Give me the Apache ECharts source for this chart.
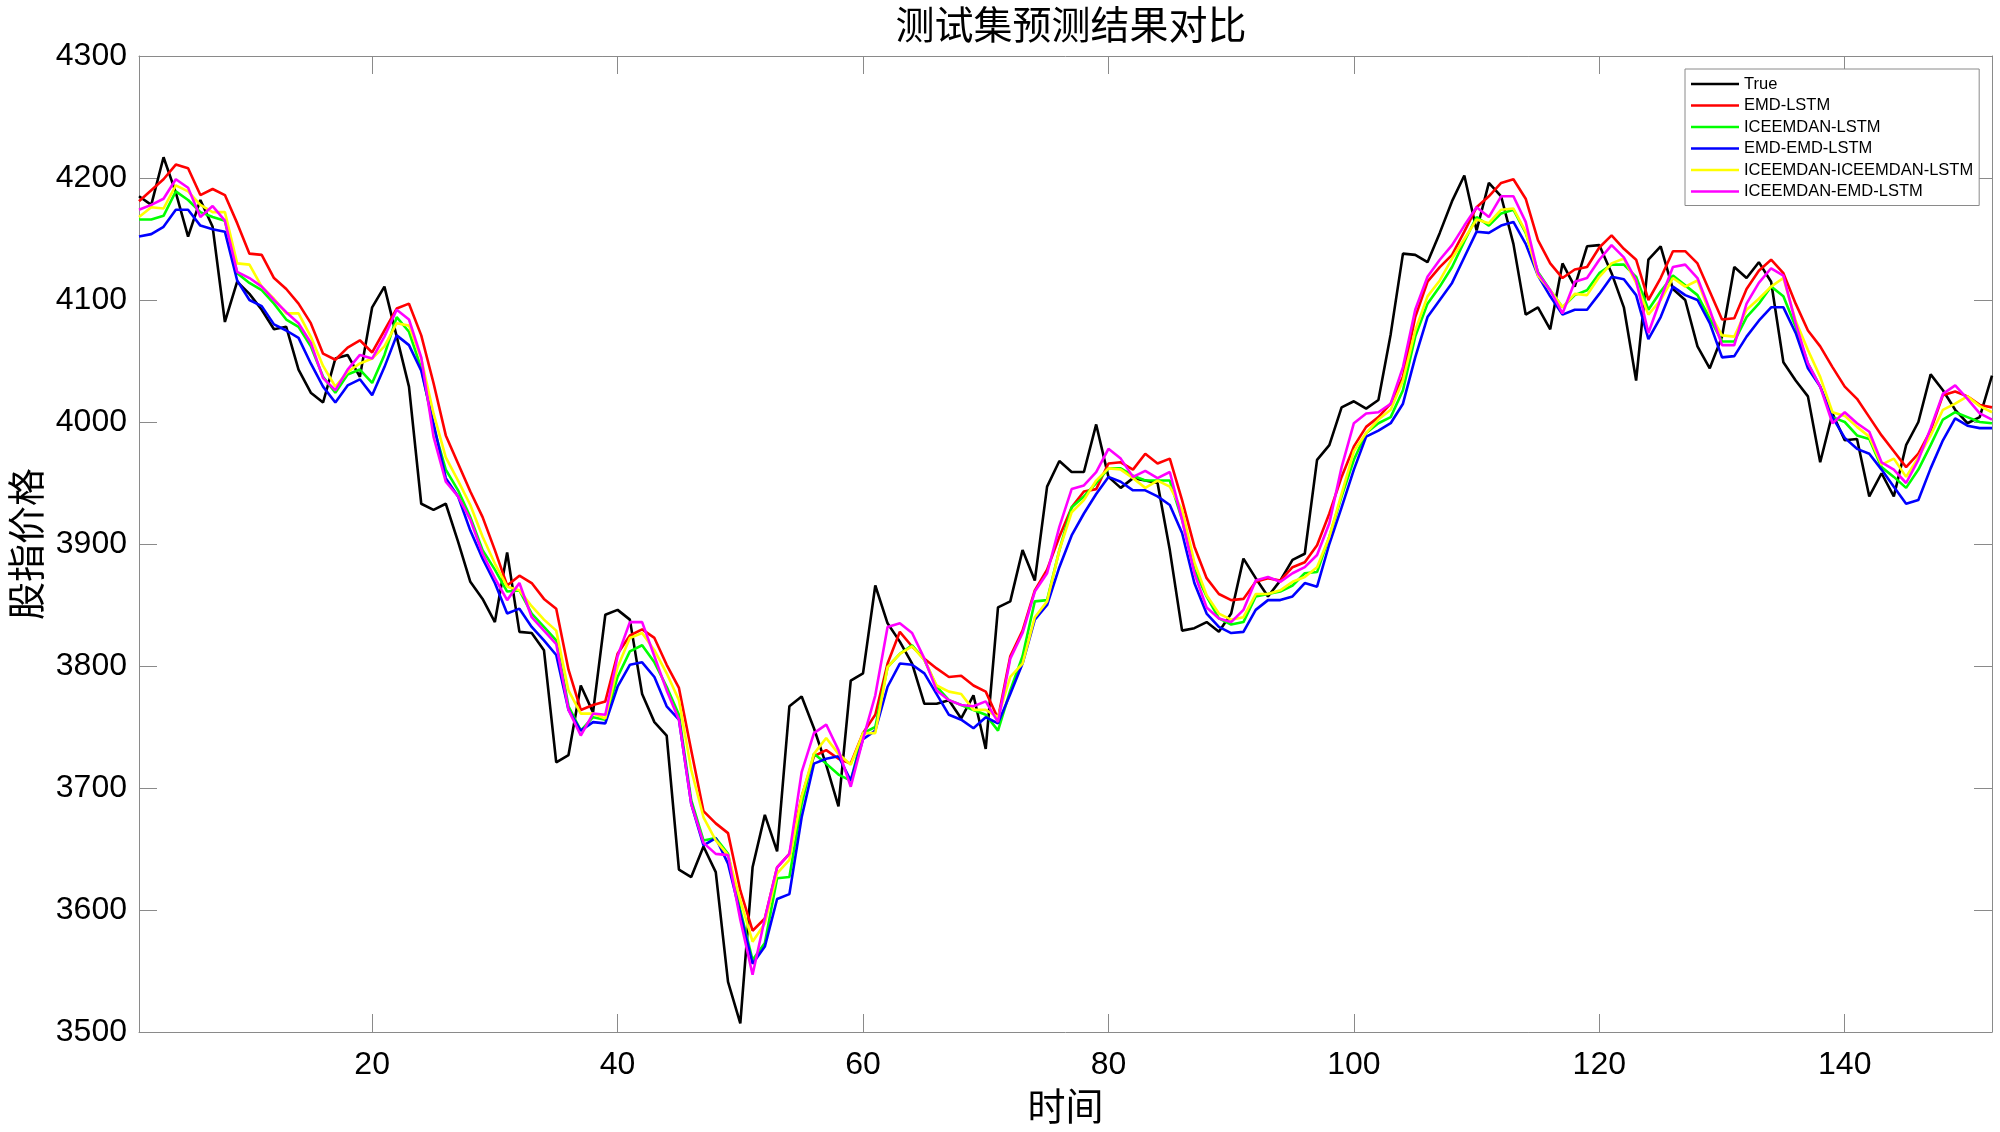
<!DOCTYPE html>
<html>
<head>
<meta charset="utf-8">
<script src="https://cdn.jsdelivr.net/npm/echarts@6/dist/echarts.min.js"></script>
<style>
  html, body { margin: 0; padding: 0; background: #fff; }
  #chart { width: 2000px; height: 1132px; }
</style>
</head>
<body>
<div id="chart"></div>
<script>
const xTicks = [20, 40, 60, 80, 100, 120, 140]
const yMin = 3500
const yMax = 4300

const trueVals = [
  4185, 4178, 4217, 4188, 4152, 4182, 4160, 4082, 4115, 4105,
  4092, 4076, 4078, 4043, 4024, 4016, 4052, 4055, 4037, 4094,
  4111, 4070, 4029, 3933, 3928, 3933, 3902, 3869, 3855, 3836,
  3893, 3828, 3827, 3813, 3721, 3727, 3784, 3762, 3842, 3846,
  3838, 3777, 3754, 3743, 3633, 3627, 3652, 3631, 3541, 3507,
  3635, 3678, 3648, 3767, 3775, 3749, 3719, 3685, 3788, 3794,
  3866, 3835, 3820, 3802, 3769, 3769, 3772, 3757, 3776, 3732,
  3848, 3853, 3895, 3870, 3947, 3968, 3959, 3959, 3998, 3955,
  3946, 3954, 3952, 3950, 3895, 3829, 3831, 3836, 3828, 3843,
  3888, 3872, 3857, 3870, 3887, 3892, 3969, 3981, 4012, 4017,
  4011, 4018, 4072, 4138, 4137, 4131, 4155, 4181, 4202, 4157,
  4196, 4185, 4146, 4088, 4094, 4076, 4130, 4111, 4144, 4145,
  4122, 4094, 4034, 4133, 4144, 4109, 4100, 4062, 4044, 4070,
  4127, 4118, 4131, 4115, 4049, 4034, 4021, 3967, 4007, 3985,
  3986, 3939, 3958, 3939, 3981, 4000, 4039, 4026, 4010, 3999,
  4004, 4038
]

const emdLstm = [
  4181, 4190, 4199, 4211, 4208, 4186, 4191, 4186, 4163, 4138,
  4137, 4118, 4109, 4097, 4081, 4056, 4051, 4061, 4067, 4057,
  4075, 4093, 4097, 4071, 4032, 3989, 3966, 3943, 3922, 3895,
  3866, 3874, 3868, 3855, 3847, 3797, 3764, 3768, 3771, 3810,
  3825, 3830, 3823, 3801, 3782, 3731, 3681, 3671, 3663, 3616,
  3583, 3593, 3635, 3646, 3693, 3726, 3731, 3724, 3720, 3745,
  3760, 3802, 3828, 3816, 3806, 3798, 3791, 3792, 3784, 3779,
  3757, 3808, 3829, 3862, 3879, 3906, 3930, 3943, 3945, 3966,
  3967, 3961, 3974, 3966, 3970, 3936, 3898, 3872, 3859, 3854,
  3855, 3869, 3872, 3870, 3881, 3885, 3899, 3925, 3955, 3980,
  3996, 4004, 4015, 4037, 4086, 4115, 4127, 4137, 4156, 4176,
  4185, 4196, 4199, 4183, 4149, 4130, 4118, 4125, 4127, 4143,
  4153, 4142, 4133, 4100, 4118, 4140, 4140, 4130, 4107, 4084,
  4085, 4109, 4124, 4133, 4122, 4097, 4075, 4062, 4045, 4029,
  4019, 4004, 3989, 3976, 3963, 3974, 3993, 4022, 4025, 4021,
  4014, 4012
]

const iceemdanLstm = [
  4166, 4166, 4169, 4189, 4182, 4172, 4168, 4165, 4122, 4114,
  4108, 4097, 4084, 4078, 4062, 4037, 4024, 4039, 4043, 4032,
  4055, 4086, 4074, 4044, 3996, 3961, 3944, 3922, 3895, 3879,
  3861, 3862, 3843, 3832, 3821, 3767, 3747, 3758, 3756, 3791,
  3812, 3817, 3803, 3783, 3760, 3690, 3657, 3659, 3646, 3600,
  3559, 3573, 3626, 3627, 3687, 3728, 3720, 3711, 3706, 3745,
  3750, 3799, 3810, 3817, 3805, 3783, 3772, 3768, 3764, 3760,
  3747, 3780, 3808, 3853, 3854, 3895, 3930, 3939, 3950, 3962,
  3962, 3956, 3952, 3952, 3952, 3920, 3879, 3857, 3839, 3834,
  3836, 3857, 3859, 3861, 3866, 3876, 3877, 3906, 3939, 3969,
  3991, 3999, 4004, 4026, 4070, 4097, 4111, 4127, 4148, 4168,
  4161, 4171, 4174, 4155, 4123, 4108, 4094, 4104, 4108, 4122,
  4129, 4129, 4119, 4092, 4107, 4120, 4112, 4104, 4085, 4066,
  4066, 4086, 4097, 4111, 4103, 4078, 4048, 4029, 4004, 4000,
  3989, 3986, 3963, 3955, 3946, 3961, 3981, 4002, 4008, 4004,
  4000, 3999
]

const emdEmdLstm = [
  4152, 4154, 4160, 4174, 4174, 4161, 4158, 4156, 4116, 4100,
  4095, 4080, 4075, 4069, 4048, 4029, 4016, 4030, 4035, 4022,
  4045, 4071, 4063, 4042, 3999, 3954, 3939, 3911, 3888, 3868,
  3843, 3847, 3832, 3821, 3809, 3764, 3747, 3754, 3753, 3783,
  3801, 3803, 3791, 3767, 3756, 3687, 3653, 3659, 3638, 3597,
  3556, 3570, 3609, 3613, 3676, 3720, 3724, 3726, 3706, 3740,
  3747, 3783, 3802, 3801, 3794, 3777, 3760, 3756, 3749, 3758,
  3753, 3777, 3802, 3838, 3850, 3881, 3907, 3925, 3941, 3955,
  3951, 3944, 3944, 3939, 3932, 3909, 3868, 3843, 3832, 3827,
  3828, 3846, 3854, 3854, 3857, 3868, 3865, 3900, 3930, 3961,
  3988, 3993, 3999, 4015, 4053, 4086, 4100, 4114, 4135, 4156,
  4155, 4161, 4164, 4146, 4120, 4103, 4088, 4092, 4092, 4105,
  4119, 4117, 4104, 4068, 4086, 4111, 4104, 4100, 4081, 4053,
  4054, 4070, 4083, 4094, 4094, 4073, 4044, 4029, 4004, 3987,
  3978, 3974, 3961, 3947, 3933, 3936, 3962, 3985, 4003, 3997,
  3995, 3995
]

const iceIceLstm = [
  4168, 4176, 4175, 4194, 4189, 4178, 4172, 4172, 4130, 4129,
  4111, 4101, 4089, 4089, 4070, 4046, 4029, 4041, 4048, 4052,
  4062, 4081, 4079, 4052, 4007, 3971, 3952, 3932, 3906, 3884,
  3865, 3862, 3849, 3838, 3829, 3780, 3761, 3761, 3757, 3799,
  3823, 3827, 3813, 3794, 3772, 3715, 3676, 3657, 3645, 3608,
  3574, 3589, 3630, 3641, 3693, 3728, 3741, 3728, 3719, 3745,
  3745, 3799, 3810, 3816, 3805, 3784, 3779, 3777, 3764, 3764,
  3758, 3791, 3802, 3840, 3853, 3895, 3926, 3936, 3952, 3962,
  3961, 3954, 3946, 3952, 3947, 3928, 3885, 3858, 3843, 3838,
  3840, 3859, 3859, 3862, 3869, 3873, 3881, 3906, 3941, 3976,
  3991, 4002, 4010, 4034, 4075, 4103, 4116, 4134, 4150, 4166,
  4163, 4174, 4175, 4156, 4120, 4108, 4094, 4105, 4104, 4119,
  4130, 4134, 4114, 4088, 4100, 4118, 4111, 4116, 4089, 4071,
  4070, 4092, 4101, 4111, 4118, 4083, 4059, 4037, 4008, 4005,
  3996, 3988, 3965, 3970, 3955, 3971, 3989, 4010, 4015, 4021,
  4013, 4008
]

const iceEmdLstm = [
  4174, 4178, 4183, 4199, 4192, 4168, 4177, 4165, 4123, 4118,
  4111, 4100, 4090, 4081, 4065, 4036, 4026, 4043, 4055, 4052,
  4070, 4092, 4084, 4053, 3988, 3951, 3939, 3920, 3892, 3872,
  3854, 3868, 3840, 3829, 3818, 3764, 3743, 3761, 3760, 3808,
  3836, 3836, 3808, 3780, 3756, 3687, 3655, 3646, 3645, 3592,
  3547, 3593, 3635, 3646, 3713, 3745, 3752, 3731, 3701, 3740,
  3776, 3832, 3835, 3827, 3806, 3780, 3772, 3768, 3767, 3771,
  3754, 3806, 3827, 3861, 3876, 3914, 3945, 3948, 3959, 3978,
  3970, 3955, 3960, 3954, 3959, 3920, 3876, 3848, 3839, 3836,
  3846, 3870, 3873, 3869, 3876, 3881, 3891, 3917, 3963, 3999,
  4007, 4008, 4015, 4045, 4092, 4119, 4133, 4145, 4161, 4176,
  4168, 4185, 4185, 4164, 4122, 4108, 4089, 4115, 4118, 4133,
  4145, 4135, 4116, 4073, 4101, 4127, 4129, 4118, 4092, 4063,
  4063, 4097, 4114, 4126, 4120, 4081, 4048, 4029, 3999, 4008,
  3999, 3992, 3967, 3961, 3950, 3969, 3995, 4023, 4030, 4019,
  4007, 4002
]

const seriesNames = ['True', 'EMD-LSTM', 'ICEEMDAN-LSTM', 'EMD-EMD-LSTM', 'ICEEMDAN-ICEEMDAN-LSTM', 'ICEEMDAN-EMD-LSTM']
const seriesColors = ['#000000', '#ff0000', '#00ff00', '#0000ff', '#ffff00', '#ff00ff']
const seriesValues = [trueVals, emdLstm, iceemdanLstm, emdEmdLstm, iceIceLstm, iceEmdLstm]

const xMax = trueVals.length
const axisColor = '#8a8a8a'
const latin = '"Liberation Sans", Arial, sans-serif'
const cjk = '"Noto Sans CJK SC", sans-serif'

const chart = echarts.init(document.getElementById('chart'))

// bottom/left axes carry labels, top/right ones only close the box
const xAxisFor = (position, withLabels) => ({
  type: 'value',
  position,
  min: 1,
  max: xMax,
  axisLine: { show: true, onZero: false, lineStyle: { color: axisColor, width: 1 } },
  axisTick: { show: true, inside: true, length: 18, customValues: xTicks, lineStyle: { color: axisColor } },
  axisLabel: {
    show: withLabels,
    customValues: xTicks,
    margin: 17,
    fontSize: 32,
    fontFamily: latin,
    color: '#000',
  },
  splitLine: { show: false },
})

const yAxisFor = (position, withLabels) => ({
  type: 'value',
  position,
  min: yMin,
  max: yMax,
  interval: 100,
  axisLine: { show: true, onZero: false, lineStyle: { color: axisColor, width: 1 } },
  axisTick: { show: true, inside: true, length: 18, lineStyle: { color: axisColor } },
  axisLabel: {
    show: withLabels,
    margin: 12,
    fontSize: 32,
    fontFamily: latin,
    color: '#000',
    formatter: (v) => String(v),
  },
  splitLine: { show: false },
})

const xBottom = xAxisFor('bottom', true)
xBottom.name = '时间'
xBottom.nameLocation = 'middle'
xBottom.nameGap = 55
xBottom.nameTextStyle = { fontSize: 38, fontFamily: cjk, color: '#000' }

const yLeft = yAxisFor('left', true)
yLeft.name = '股指价格'
yLeft.nameLocation = 'middle'
yLeft.nameRotate = 90
yLeft.nameGap = 88
yLeft.nameTextStyle = { fontSize: 38, fontFamily: cjk, color: '#000' }

chart.setOption({
  animation: false,
  backgroundColor: '#fff',
  title: {
    text: '测试集预测结果对比',
    left: 1066,
    top: 0,
    textAlign: 'center',
    textStyle: { fontSize: 39, fontWeight: 'normal', fontFamily: cjk, color: '#000' },
  },
  grid: {
    left: 139,
    right: 8,
    top: 56,
    bottom: 100,
    containLabel: false,
    outerBoundsMode: 'none',
  },
  legend: {
    orient: 'vertical',
    left: 1685,
    top: 69,
    padding: [5, 6, 4, 6],
    itemGap: 1.5,
    itemWidth: 48,
    itemHeight: 2.6,
    icon: 'rect',
    backgroundColor: '#fff',
    borderColor: '#8a8a8a',
    borderWidth: 1,
    borderRadius: 0,
    textStyle: { fontSize: 16.5, fontFamily: latin, color: '#000', lineHeight: 20 },
    data: seriesNames,
  },
  xAxis: [xBottom, xAxisFor('top', false)],
  yAxis: [yLeft, yAxisFor('right', false)],
  series: seriesValues.map((vals, k) => ({
    name: seriesNames[k],
    type: 'line',
    xAxisIndex: 0,
    yAxisIndex: 0,
    data: vals.map((v, i) => [i + 1, v]),
    symbol: 'none',
    color: seriesColors[k],
    lineStyle: { width: 2.6, color: seriesColors[k] },
    emphasis: { disabled: true },
  })),
})
</script>
</body>
</html>
